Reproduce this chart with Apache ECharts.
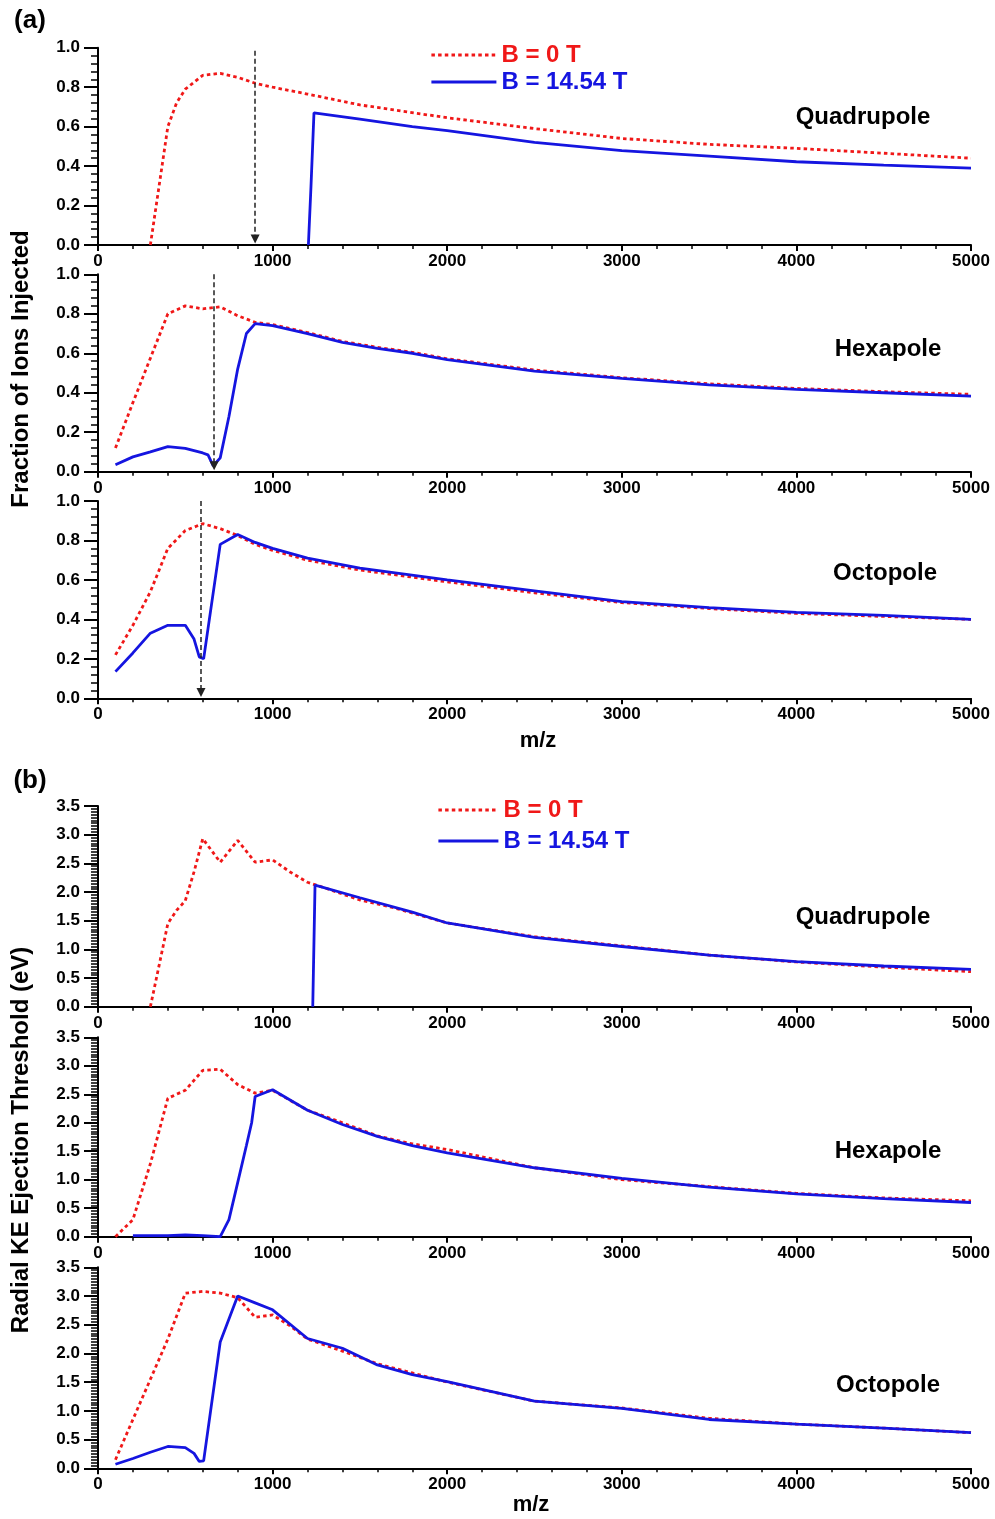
<!DOCTYPE html>
<html>
<head>
<meta charset="utf-8">
<script src="https://cdn.jsdelivr.net/npm/echarts@6.0.0/dist/echarts.min.js"></script>
<style>
html,body{margin:0;padding:0;background:#fff;}
#chart{width:995px;height:1519px;}
</style>
</head>
<body>
<div id="chart"></div>
<script>
// ---- data ----
// (a) fraction of ions injected
var mzQuadA0 = [300, 350, 400, 450, 500, 600, 700, 800, 900, 1000, 1200, 1500, 2000, 2500, 3000, 3500, 4000, 4500, 5000];
var quadA0   = [0, 0.30, 0.60, 0.72, 0.79, 0.86, 0.87, 0.85, 0.82, 0.80, 0.765, 0.71, 0.645, 0.59, 0.54, 0.51, 0.49, 0.465, 0.44];
var mzQuadA1 = [1205, 1220, 1237, 1500, 1800, 2000, 2500, 3000, 3500, 4000, 4500, 5000];
var quadA1   = [0, 0.30, 0.67, 0.638, 0.60, 0.58, 0.52, 0.478, 0.45, 0.422, 0.405, 0.39];

var mzHexA0 = [100, 200, 300, 400, 500, 600, 700, 800, 900, 1000, 1200, 1400, 1600, 1800, 2000, 2500, 3000, 3500, 4000, 4500, 5000];
var hexA0   = [0.12, 0.35, 0.575, 0.80, 0.84, 0.825, 0.835, 0.79, 0.757, 0.745, 0.705, 0.66, 0.63, 0.605, 0.572, 0.515, 0.476, 0.445, 0.422, 0.405, 0.392];
var mzHexA1 = [100, 200, 300, 400, 500, 600, 630, 660, 700, 750, 800, 850, 900, 1000, 1200, 1400, 1600, 1800, 2000, 2500, 3000, 3500, 4000, 4500, 5000];
var hexA1   = [0.035, 0.075, 0.10, 0.127, 0.118, 0.095, 0.085, 0.03, 0.07, 0.28, 0.52, 0.70, 0.75, 0.74, 0.70, 0.655, 0.625, 0.60, 0.568, 0.51, 0.473, 0.44, 0.417, 0.40, 0.383];

var mzOctA0 = [100, 200, 300, 400, 500, 600, 700, 800, 900, 1000, 1200, 1500, 2000, 2500, 3000, 3500, 4000, 4500, 5000];
var octA0   = [0.22, 0.37, 0.54, 0.76, 0.85, 0.885, 0.86, 0.825, 0.78, 0.75, 0.70, 0.65, 0.59, 0.535, 0.485, 0.455, 0.43, 0.415, 0.40];
var mzOctA1 = [100, 200, 300, 400, 500, 550, 580, 605, 700, 800, 900, 1000, 1200, 1500, 2000, 2500, 3000, 3500, 4000, 4500, 5000];
var octA1   = [0.135, 0.23, 0.33, 0.37, 0.37, 0.30, 0.21, 0.20, 0.78, 0.83, 0.79, 0.76, 0.71, 0.66, 0.60, 0.545, 0.49, 0.46, 0.436, 0.42, 0.40];

// (b) radial KE ejection threshold (eV)
var mzQuadB0 = [300, 350, 400, 450, 480, 500, 550, 600, 700, 800, 900, 1000, 1100, 1200, 1300, 1500, 1700, 2000, 2500, 3000, 3500, 4000, 4500, 5000];
var quadB0   = [0, 0.72, 1.45, 1.68, 1.78, 1.85, 2.35, 2.93, 2.52, 2.90, 2.52, 2.56, 2.35, 2.17, 2.07, 1.86, 1.72, 1.46, 1.22, 1.06, 0.90, 0.78, 0.69, 0.61];
var mzQuadB1 = [1230, 1243, 1500, 1800, 2000, 2500, 3000, 3500, 4000, 4500, 5000];
var quadB1   = [0, 2.12, 1.90, 1.65, 1.46, 1.21, 1.05, 0.90, 0.785, 0.71, 0.65];

var mzHexB0 = [100, 200, 300, 400, 500, 600, 700, 800, 900, 1000, 1200, 1400, 1600, 1800, 2000, 2500, 3000, 3500, 4000, 4500, 5000];
var hexB0   = [0, 0.30, 1.28, 2.43, 2.57, 2.92, 2.94, 2.67, 2.52, 2.57, 2.22, 2.00, 1.77, 1.63, 1.53, 1.21, 1.00, 0.88, 0.76, 0.68, 0.63];
var mzHexB1 = [200, 400, 500, 600, 700, 750, 800, 850, 880, 900, 1000, 1200, 1400, 1600, 1800, 2000, 2500, 3000, 3500, 4000, 4500, 5000];
var hexB1   = [0.02, 0.02, 0.03, 0.02, 0, 0.30, 0.95, 1.60, 2.00, 2.46, 2.58, 2.22, 1.97, 1.76, 1.60, 1.47, 1.21, 1.025, 0.87, 0.75, 0.67, 0.60];

var mzOctB0 = [100, 200, 300, 400, 500, 600, 700, 800, 850, 900, 1000, 1100, 1200, 1400, 1600, 1800, 2000, 2500, 3000, 3500, 4000, 4500, 5000];
var octB0   = [0.15, 0.85, 1.55, 2.25, 3.05, 3.08, 3.05, 2.97, 2.80, 2.63, 2.67, 2.48, 2.25, 2.04, 1.82, 1.66, 1.50, 1.17, 1.05, 0.87, 0.77, 0.70, 0.62];
var mzOctB1 = [100, 200, 300, 400, 500, 550, 580, 605, 700, 800, 900, 1000, 1200, 1400, 1600, 1800, 2000, 2500, 3000, 3500, 4000, 4500, 5000];
var octB1   = [0.07, 0.17, 0.28, 0.38, 0.36, 0.26, 0.12, 0.13, 2.20, 3.00, 2.88, 2.76, 2.26, 2.09, 1.80, 1.63, 1.51, 1.17, 1.045, 0.85, 0.77, 0.70, 0.62];

// dashed arrows in (a): m/z position
var arrowMz = [900, 665, 590];

var seriesNames = ['B = 0 T', 'B = 14.54 T'];
var panelNames = ['Quadrupole', 'Hexapole', 'Octopole', 'Quadrupole', 'Hexapole', 'Octopole'];

var RED = '#f01818', BLUE = '#1515e0';
var FONT = '"Liberation Sans", Arial, Helvetica, sans-serif';

function pairs(xs, ys){
    var out = [];
    for(var i=0;i<xs.length;i++){ out.push([xs[i], ys[i]]); }
    return out;
}

// panel layout: top/height of each plot box, label centre
var panels = [
    {top:47.7,  h:197.3, ymax:1,   step:0.2, minor:5,  d:[mzQuadA0,quadA0,mzQuadA1,quadA1], lx:863, ly:117,  arrow:arrowMz[0], arrowTop:0.985},
    {top:274.3, h:197.4, ymax:1,   step:0.2, minor:5,  d:[mzHexA0,hexA0,mzHexA1,hexA1],     lx:888, ly:349,  arrow:arrowMz[1], arrowTop:1.0},
    {top:501,   h:197.3, ymax:1,   step:0.2, minor:5,  d:[mzOctA0,octA0,mzOctA1,octA1],     lx:885, ly:573,  arrow:arrowMz[2], arrowTop:1.0},
    {top:806,   h:200.7, ymax:3.5, step:0.5, minor:10, d:[mzQuadB0,quadB0,mzQuadB1,quadB1], lx:863, ly:917},
    {top:1037.3,h:199.4, ymax:3.5, step:0.5, minor:10, d:[mzHexB0,hexB0,mzHexB1,hexB1],     lx:888, ly:1151},
    {top:1267.3,h:201,   ymax:3.5, step:0.5, minor:10, d:[mzOctB0,octB0,mzOctB1,octB1],     lx:888, ly:1385}
];

var grids=[], xAxes=[], yAxes=[], series=[], graphics=[];
panels.forEach(function(p, i){
    grids.push({left:98, width:873, top:p.top, height:p.h});
    xAxes.push({
        gridIndex:i, type:'value', min:0, max:5000, interval:1000,
        axisLine:{lineStyle:{color:'#000', width:2}},
        axisTick:{length:6, lineStyle:{color:'#000', width:2}},
        minorTick:{show:true, splitNumber:5, length:4, lineStyle:{color:'#000', width:1.5}},
        splitLine:{show:false},
        axisLabel:{color:'#000', fontFamily:FONT, fontWeight:'bold', fontSize:17, margin:8,
            formatter:function(v){ return String(v); }}
    });
    yAxes.push({
        gridIndex:i, type:'value', min:0, max:p.ymax, interval:p.step,
        axisLine:{show:true, lineStyle:{color:'#000', width:2}},
        axisTick:{show:true, length:14, lineStyle:{color:'#000', width:2}},
        minorTick:{show:true, splitNumber:p.minor, length:7, lineStyle:{color:'#000', width:1.5}},
        splitLine:{show:false},
        axisLabel:{color:'#000', fontFamily:FONT, fontWeight:'bold', fontSize:17, margin:18,
            formatter:function(v){ return v.toFixed(1); }}
    });
    var red = {
        name:seriesNames[0], type:'line', xAxisIndex:i, yAxisIndex:i,
        data:pairs(p.d[0], p.d[1]), symbol:'none', z:3,
        lineStyle:{color:RED, width:2.8, type:[3.5,3.2]}, itemStyle:{color:RED}
    };
    var blue = {
        name:seriesNames[1], type:'line', xAxisIndex:i, yAxisIndex:i,
        data:pairs(p.d[2], p.d[3]), symbol:'none', z:4,
        lineStyle:{color:BLUE, width:2.8}, itemStyle:{color:BLUE}
    };
    if(p.arrow){
        blue.markLine = {
            silent:true, symbol:['none','triangle'], symbolSize:9,
            label:{show:false},
            lineStyle:{color:'#222', width:1.5, type:[5,3]},
            data:[[{coord:[p.arrow, p.arrowTop]}, {coord:[p.arrow, 0.03]}]]
        };
    }
    series.push(red, blue);
    graphics.push({
        type:'text', x:p.lx, y:p.ly,
        style:{text:panelNames[i], font:'bold 24px '+FONT, fill:'#000', align:'center', verticalAlign:'middle'}
    });
});

// figure labels and axis titles
graphics.push(
    {type:'text', x:30, y:21,  style:{text:'(a)', font:'bold 26px '+FONT, fill:'#000', align:'center', verticalAlign:'middle'}},
    {type:'text', x:30, y:781, style:{text:'(b)', font:'bold 26px '+FONT, fill:'#000', align:'center', verticalAlign:'middle'}},
    {type:'text', x:538, y:741,  style:{text:'m/z', font:'bold 22px '+FONT, fill:'#000', align:'center', verticalAlign:'middle'}},
    {type:'text', x:531, y:1505, style:{text:'m/z', font:'bold 22px '+FONT, fill:'#000', align:'center', verticalAlign:'middle'}},
    {type:'text', x:21, y:369, rotation:Math.PI/2,
        style:{text:'Fraction of Ions Injected', font:'bold 24px '+FONT, fill:'#000', align:'center', verticalAlign:'middle'}},
    {type:'text', x:21, y:1140, rotation:Math.PI/2,
        style:{text:'Radial KE Ejection Threshold (eV)', font:'bold 24px '+FONT, fill:'#000', align:'center', verticalAlign:'middle'}}
);

function legendAt(left, top, w, gap){
    return {
        left:left, top:top, orient:'vertical', itemWidth:w, itemHeight:14, itemGap:gap,
        selectedMode:false,
        itemStyle:{opacity:0},
        lineStyle:{width:2.8},
        textStyle:{fontFamily:FONT, fontWeight:'bold', fontSize:24, lineHeight:24},
        data:[
            {name:seriesNames[0], textStyle:{color:RED}},
            {name:seriesNames[1], textStyle:{color:BLUE}}
        ]
    };
}

var myChart = echarts.init(document.getElementById('chart'), null, {renderer:'canvas'});
var option = {
    backgroundColor:'#fff',
    animation:false,
    legend:[legendAt(425, 38, 65, 3), legendAt(432, 793, 60, 7)],
    grid:grids,
    xAxis:xAxes,
    yAxis:yAxes,
    series:series,
    graphic:graphics
};
myChart.setOption(option);
</script>
</body>
</html>
